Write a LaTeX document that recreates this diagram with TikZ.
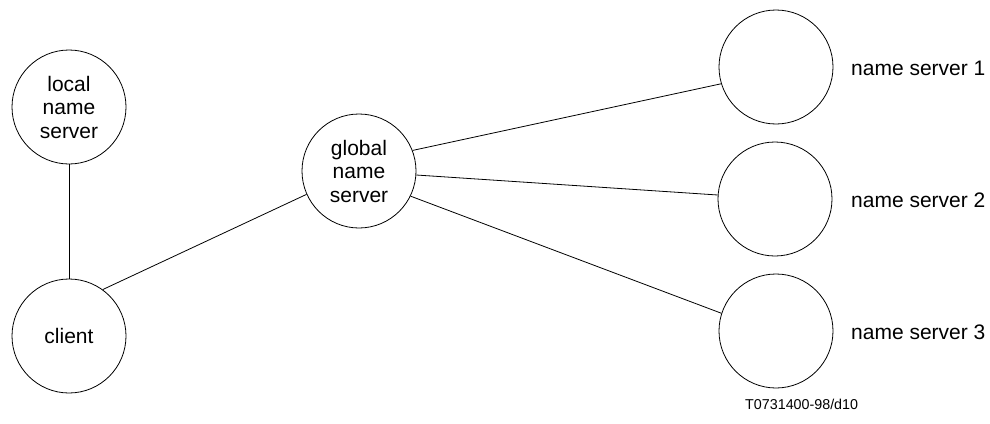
\documentclass[tikz,border=0pt]{standalone}
\usepackage{fontspec}
\setmainfont{Liberation Sans}
\begin{document}
\begin{tikzpicture}[x=1pt,y=-1pt,
  srv/.style={draw, circle, line width=0.8pt, minimum size=114pt, inner sep=0pt, align=center,
    font=\fontsize{21}{23.5}\selectfont},
  lbl/.style={anchor=base west, inner sep=0pt, font=\fontsize{21}{23.5}\selectfont},
  conn/.style={line width=0.8pt}]
\useasboundingbox (0,0) rectangle (990,423);
\node[srv] (local) at (69,107) {local\\name\\server};
\node[srv] (client) at (69,336) {client};
\node[srv] (global) at (359,171) {global\\name\\server};
\node[srv] (ns1) at (776,67) {};
\node[srv] (ns2) at (775,199) {};
\node[srv] (ns3) at (776,331) {};
\node[lbl] (l1) at (851,75) {name server 1};
\node[lbl] (l2) at (851,207) {name server 2};
\node[lbl] (l3) at (851,339) {name server 3};
\node[anchor=base west, inner sep=0pt, font=\fontsize{14.3}{16}\selectfont] (ref) at (745,409) {T0731400-98/d10};
\draw[conn] (local.south) -- (client.north);
\draw[conn] (client.54) -- (global.204);
\draw[conn] (global.21.6) -- (ns1.197);
\draw[conn] (global.-4) -- (ns2.176);
\draw[conn] (global.-26) -- (ns3.162);
\end{tikzpicture}
\end{document}
